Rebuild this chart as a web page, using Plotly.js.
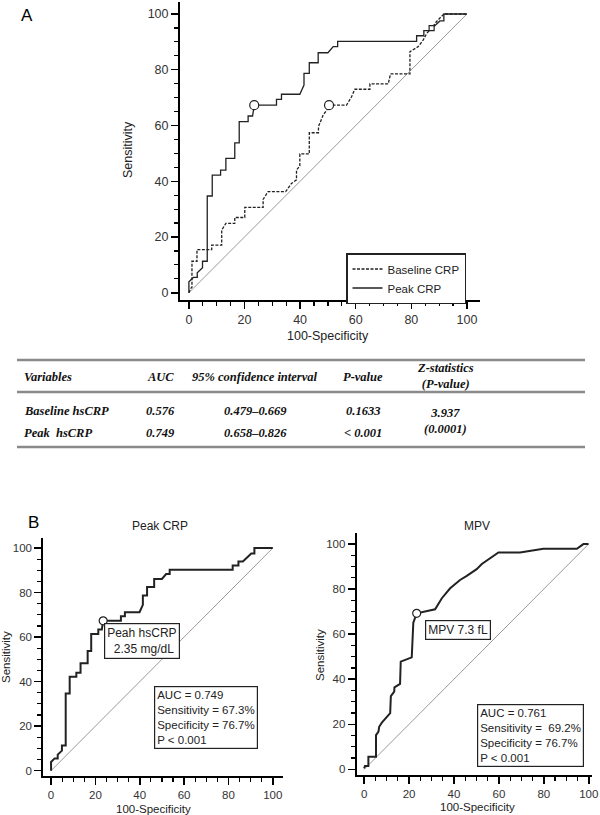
<!DOCTYPE html>
<html>
<head>
<meta charset="utf-8">
<script src="https://cdn.plot.ly/plotly-3.0.1.min.js"></script>
<style>
  html, body { margin: 0; padding: 0; background: #fff; }
  #chart { width: 600px; height: 815px; }
</style>
</head>
<body>
<div id="chart"></div>
<script>
// ROC points (100-Specificity, Sensitivity)
const peakX = [0, 0, 1.6, 3.0, 3.0, 4.9, 4.9, 6.6, 6.6, 8.4, 8.4, 11.4, 11.4, 13.3, 13.3, 16.5, 16.5, 18.1, 18.1, 21.3, 21.3, 22.9, 23.5, 31.5, 31.5, 33.3, 33.3, 39.9, 41.4, 41.4, 43.3, 43.3, 46.5, 46.5, 50.0, 51.9, 53.5, 53.5, 81.9, 81.9, 84.5, 84.5, 86.5, 88.5, 90.3, 91.7, 91.7, 100];
const peakY = [0, 3.9, 5.5, 5.5, 7.2, 9.0, 11.3, 11.3, 34.7, 34.7, 42.2, 42.2, 44.0, 44.0, 48.2, 48.2, 53.8, 53.8, 61.4, 61.4, 63.4, 63.4, 67.3, 67.3, 69.4, 69.4, 71.2, 71.2, 74.5, 78.7, 78.7, 82.5, 82.5, 86.1, 86.1, 88.3, 88.3, 90.2, 90.2, 92.2, 92.2, 94.0, 94.0, 96.0, 97.5, 97.5, 100, 100];

const baseX = [0, 0.6, 1.1, 1.1, 2.9, 2.9, 8.2, 8.2, 11.8, 11.8, 13.3, 16.5, 16.5, 20.1, 20.1, 26.7, 26.7, 28.5, 34.8, 36.9, 38.7, 38.7, 39.9, 39.9, 43.3, 43.3, 46.6, 46.6, 48.3, 49.6, 50.4, 56.7, 58.5, 59.7, 65.1, 65.1, 71.7, 72.5, 79.5, 79.5, 82.5, 84.3, 85.5, 87.3, 89.0, 91.7, 100];
const baseY = [0, 1.5, 2.0, 11.3, 11.3, 15.5, 15.5, 17.1, 17.1, 22.5, 24.9, 24.9, 27.0, 27.0, 30.6, 30.6, 33.5, 36.3, 36.3, 39.2, 40.5, 44.0, 45.5, 49.8, 49.8, 57.4, 57.4, 59.6, 63.8, 65.5, 67.3, 67.3, 70.3, 73.0, 73.0, 74.9, 74.9, 78.5, 78.5, 86.5, 88.3, 90.7, 93.0, 94.9, 97.2, 100, 100];

const mpvX = [0, 0.4, 1.9, 1.9, 5.3, 5.3, 6.4, 6.7, 7.9, 11.6, 11.9, 13.4, 13.5, 16.0, 16.3, 21.2, 21.9, 23.4, 31.6, 34.6, 38.3, 42.7, 45.7, 50.1, 52.4, 59.8, 69.4, 79.8, 94.7, 97.6, 99.9];
const mpvY = [0.4, 1.5, 1.5, 5.6, 5.6, 15.2, 16.7, 18.9, 20.7, 24.9, 32.5, 34.5, 36.4, 37.9, 47.8, 49.7, 65.1, 69.2, 71.0, 75.9, 80.3, 84.0, 85.8, 88.8, 91.1, 96.2, 96.2, 97.8, 97.8, 99.9, 99.9];

const diagX = [0, 100];
const diagY = [0, 100];

// cut-off points marked on the curves
const peakCut = [23.5, 67.3];
const baseCut = [50.4, 67.3];
const baseSquare = [87.3, 94.9];
const mpvCut = [23.4, 69.2];

// table under panel A
const tableHeader = ["Variables", "AUC", "95% confidence interval", "P-value", "Z-statistics<br>(P-value)"];
const tableVariables = ["Baseline hsCRP", "Peak\u00a0 hsCRP"];
const tableAuc = ["0.576", "0.749"];
const tableCi = ["0.479–0.669", "0.658–0.826"];
const tableP = ["0.1633", "< 0.001"];
const tableZ = "3.937<br>(0.0001)";

const peakStats = ["AUC = 0.749", "Sensitivity = 67.3%", "Specificity = 76.7%", "P < 0.001"];
const mpvStats = ["AUC = 0.761", "Sensitivity = \u00a069.2%", "Specificity = 76.7%", "P < 0.001"];

const W = 600, H = 815;
const px = (v) => v / W;
const py = (v) => 1 - v / H;

const sans = "Liberation Sans, Arial, sans-serif";
const serif = "Liberation Serif, Times New Roman, serif";

function axisStyle(domain, range, fontSize) {
  return {
    domain,
    range,
    showgrid: false,
    zeroline: false,
    showline: true,
    linecolor: "#000",
    linewidth: 2,
    tickmode: "linear",
    tick0: 0,
    dtick: 20,
    ticks: "outside",
    ticklen: 7,
    tickwidth: 1.5,
    tickcolor: "#000",
    tickfont: { family: sans, size: fontSize, color: "#333" },
    minor: { tick0: 0, dtick: 5, ticks: "outside", ticklen: 4, tickwidth: 1.2, tickcolor: "#000" },
    fixedrange: true,
  };
}

const diagLine = (xa, ya) => ({
  x: diagX, y: diagY, xaxis: xa, yaxis: ya, type: "scatter", mode: "lines",
  line: { color: "#9a9a9a", width: 1 }, showlegend: false, hoverinfo: "skip",
});

const openPoint = (pt, xa, ya, symbol, size) => ({
  x: [pt[0]], y: [pt[1]], xaxis: xa, yaxis: ya, type: "scatter", mode: "markers",
  marker: { symbol, size, color: "#fff", line: { color: "#222", width: 1.2 } },
  showlegend: false, hoverinfo: "skip",
});

const traces = [
  diagLine("x", "y"),
  {
    x: baseX, y: baseY, xaxis: "x", yaxis: "y", type: "scatter", mode: "lines",
    name: "Baseline CRP", line: { color: "#222", width: 1.3, dash: "3px,1.5px" },
  },
  {
    x: peakX, y: peakY, xaxis: "x", yaxis: "y", type: "scatter", mode: "lines",
    name: "Peak CRP", line: { color: "#222", width: 1.3 },
  },
  openPoint(peakCut, "x", "y", "circle", 9),
  openPoint(baseCut, "x", "y", "circle", 9),
  openPoint(baseSquare, "x", "y", "square", 5),

  diagLine("x2", "y2"),
  {
    x: peakX, y: peakY, xaxis: "x2", yaxis: "y2", type: "scatter", mode: "lines",
    line: { color: "#222", width: 2 }, showlegend: false,
  },
  openPoint(peakCut, "x2", "y2", "circle", 8),

  diagLine("x3", "y3"),
  {
    x: mpvX, y: mpvY, xaxis: "x3", yaxis: "y3", type: "scatter", mode: "lines",
    line: { color: "#222", width: 2 }, showlegend: false,
  },
  openPoint(mpvCut, "x3", "y3", "circle", 8),
];

const note = (text, x, y, opts = {}) => ({
  text, x: px(x), y: py(y), xref: "paper", yref: "paper", showarrow: false,
  font: { family: sans, size: 12, color: "#222", ...(opts.font || {}) },
  xanchor: opts.xanchor || "center", yanchor: opts.yanchor || "middle",
  align: opts.align || "center", textangle: opts.textangle || 0,
  ...(opts.box ? { bordercolor: "#222", borderwidth: 1.2, bgcolor: "#fff", borderpad: opts.pad || 2 } : {}),
});

const tableFont = { family: serif, size: 12.5, color: "#111" };
const bi = (t) => `<b><i>${t}</i></b>`;
const colX = [22, 160, 255, 363, 445];

const annotations = [
  note("A", 27, 16, { font: { size: 17, color: "#000" } }),
  note("B", 33, 522, { font: { size: 17, color: "#000" } }),

  note("Sensitivity", 128, 150, { textangle: -90, font: { size: 12.5 } }),
  note("100-Specificity", 328, 336, { font: { size: 12.5 } }),

  note("Peak CRP", 160, 526),
  note("Sensitivity", 6, 657, { textangle: -90, font: { size: 11.5 } }),
  note("100-Specificity", 153, 809, { font: { size: 11.5 } }),
  note("Peah hsCRP<br>\u00a0 2.35 mg/dL", 104, 623, { xanchor: "left", yanchor: "top", align: "left", box: true, pad: 2 }),
  note(peakStats.join("<br>"), 154, 686, { xanchor: "left", yanchor: "top", align: "left", box: true, pad: 2, font: { size: 11.5 } }),

  note("MPV", 477, 526),
  note("Sensitivity", 320, 655, { textangle: -90, font: { size: 11.5 } }),
  note("100-Specificity", 477, 807, { font: { size: 11.5 } }),
  note("MPV 7.3 fL", 425, 620, { xanchor: "left", yanchor: "top", box: true, pad: 2 }),
  note(mpvStats.join("<br>"), 477, 704, { xanchor: "left", yanchor: "top", align: "left", box: true, pad: 2, font: { size: 11.5 } }),
];

tableHeader.forEach((h, i) => {
  annotations.push(note(bi(h), colX[i], i === 4 ? 375.5 : 377, {
    xanchor: i === 0 ? "left" : "center", font: tableFont,
  }));
});
[411, 433].forEach((rowY, r) => {
  annotations.push(note(bi(tableVariables[r]), colX[0], rowY, { xanchor: "left", font: tableFont }));
  annotations.push(note(bi(tableAuc[r]), colX[1], rowY, { font: tableFont }));
  annotations.push(note(bi(tableCi[r]), colX[2], rowY, { font: tableFont }));
  annotations.push(note(bi(tableP[r]), colX[3], rowY, { font: tableFont }));
});
annotations.push(note(bi(tableZ), colX[4], 420.5, { font: tableFont }));

const tableLine = (yy) => ({
  type: "line", xref: "paper", yref: "paper",
  x0: px(17), x1: px(585), y0: py(yy), y1: py(yy),
  line: { color: "#8a8a8a", width: 2.5 },
});

const layout = {
  width: W,
  height: H,
  margin: { l: 0, r: 0, t: 0, b: 0 },
  paper_bgcolor: "#fff",
  plot_bgcolor: "rgba(0,0,0,0)",
  showlegend: true,
  legend: {
    x: px(346), y: py(253), xanchor: "left", yanchor: "top",
    bgcolor: "#fff", bordercolor: "#222", borderwidth: 1.5,
    font: { family: sans, size: 11.5, color: "#222" },
    itemwidth: 30, tracegroupgap: 0,
  },
  xaxis: { ...axisStyle([px(180), px(480)], [-3.2, 104.7], 12.5), anchor: "y" },
  yaxis: { ...axisStyle([py(300), py(2)], [-2.6, 104.3], 12.5), anchor: "x" },
  xaxis2: { ...axisStyle([px(43.3), px(283)], [-3.5, 104.6], 11.5), anchor: "y2" },
  yaxis2: { ...axisStyle([py(776), py(538)], [-2.4, 104.5], 11.5), anchor: "x2" },
  xaxis3: { ...axisStyle([px(356.7), px(591.7)], [-3.3, 101.3], 11.5), anchor: "y3" },
  yaxis3: { ...axisStyle([py(775), py(533.3)], [-2.5, 104.7], 11.5), anchor: "x3" },
  shapes: [tableLine(360), tableLine(392), tableLine(447)],
  annotations,
};

Plotly.newPlot("chart", traces, layout, { staticPlot: true, displayModeBar: false });
</script>
</body>
</html>
